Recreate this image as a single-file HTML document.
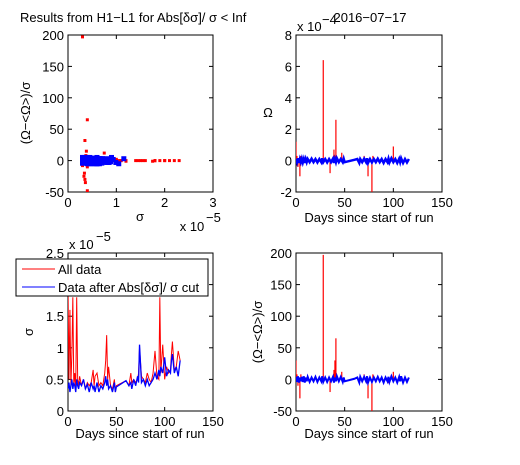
<!DOCTYPE html>
<html><head><meta charset="utf-8"><style>
body{margin:0;background:#fff}
svg text{font-family:"Liberation Sans",Helvetica,sans-serif;font-size:13px;fill:#000}
</style></head><body>
<svg id="fig" width="520" height="460" viewBox="0 0 520 460" xmlns="http://www.w3.org/2000/svg"></svg>
<script>
const days=[0,1,2,3,4,5,6,7,8,9,10,11,12,14,16,18,20,22,24,26,27,28,30,32,34,36,38,39,40,41,42,44,46,48,49,50,60,63,65,66,68,70,72,73,74,76,78,80,82,84,86,88,90,92,94,95,96,98,100,102,104,106,107,108,110,112,114,116];
const sigmaRed=[2.0,0.5,1.6,0.4,0.9,1.8,0.4,0.6,0.35,1.8,0.5,0.4,0.55,0.4,0.5,0.35,0.45,0.4,0.45,0.65,0.4,0.55,0.6,0.4,0.45,0.4,0.6,0.8,1.2,0.5,0.7,0.4,0.35,0.5,0.3,0.4,0.48,0.4,0.6,0.45,0.5,0.45,0.5,0.6,1.0,0.55,0.5,0.45,0.6,0.5,0.45,0.6,0.95,0.55,0.5,1.8,0.6,1.05,0.5,0.7,0.6,0.65,0.9,1.1,0.65,0.7,0.95,0.8];
const sigmaBlue=[0.35,0.45,0.3,0.4,0.5,0.35,0.45,0.4,0.3,0.5,0.4,0.35,0.45,0.4,0.5,0.35,0.42,0.3,0.45,0.35,0.4,0.3,0.45,0.3,0.4,0.35,0.45,0.55,0.4,0.5,0.35,0.4,0.3,0.45,0.3,0.38,0.48,0.4,0.45,0.35,0.5,0.4,0.55,0.45,1.05,0.45,0.5,0.4,0.5,0.4,0.45,0.5,0.6,0.5,0.65,0.55,0.7,0.6,0.85,0.55,0.65,0.6,0.8,0.9,0.6,0.7,0.55,0.8];
const omegaBlue=[0.1,-0.1,0.15,-0.15,0.1,-0.1,0.12,-0.12,0.1,-0.15,0.1,-0.1,0.1,-0.1,0.12,-0.1,0.1,-0.12,0.1,-0.1,0.15,-0.1,0.1,-0.12,0.1,-0.1,0.12,-0.15,0.1,-0.1,0.15,-0.1,0.1,-0.1,0.12,-0.1,0.05,0.1,-0.15,0.1,-0.1,0.12,-0.1,0.15,-0.15,0.1,-0.12,0.1,-0.1,0.12,-0.1,0.1,-0.15,0.1,-0.1,0.12,-0.12,0.15,-0.1,0.1,-0.15,0.12,-0.1,0.15,-0.15,0.1,-0.12,0.1];
const ratioBlue=[4,-4,5,-5,3,-3,4,-4,5,-5,3,-3,4,-4,3,-3,4,-4,3,-3,5,-4,3,-4,3,-3,4,-5,3,-3,5,-3,4,-4,3,-3,1,3,-5,4,-3,4,-3,5,-5,3,-4,3,-3,4,-3,3,-5,3,-3,4,-4,5,-3,3,-5,4,-3,5,-5,3,-4,3];
const spikeDays=[0,1,2,4,5,28,35,39,40,41,47,70,73,74,78,79,95,100];
const spikeOmega=[1.2,0.3,-0.4,-1.0,0.3,6.4,-0.8,0.7,0.3,2.6,0.5,0.3,-0.2,-1.0,-2.0,0.3,-0.2,0.9];
const spikeRatio=[30,8,-10,-30,8,197,-20,15,30,65,12,8,-6,-30,-50,8,-6,12];
const scatterSigmaRed=[0.3,0.4,0.35,0.35,0.4,0.38,0.33,0.37,0.36,0.4,0.75,0.9,1.0,1.1,1.2,1.4,1.45,1.5,1.55,1.75,1.8,1.9,2.0,2.1,2.2,2.3,0.3,0.36,0.34];
const scatterRatioRed=[197,65,32,-30,-48,15,-25,8,-35,-10,12,0,2,0,-1,0,0,0,0,-1,0,0,0,0,0,0,-8,5,-20];

const NS='http://www.w3.org/2000/svg';
const svg=document.getElementById('fig');
function mk(tag,attrs,parent){const e=document.createElementNS(NS,tag);for(const k in attrs)e.setAttribute(k,attrs[k]);(parent||svg).appendChild(e);return e;}
function txt(x,y,s,anchor,name,parent,extra){const t=mk('text',Object.assign({x:x,y:y,'text-anchor':anchor||'middle'},extra||{}),parent);t.textContent=s;return t;}
function axes(name,x0,x1,y0,y1,xmin,xmax,ymin,ymax,xt,yt){
  const g=mk('g',{});
  
  
  const sx=v=>x0+(v-xmin)/(xmax-xmin)*(x1-x0);
  const sy=v=>y1-(v-ymin)/(ymax-ymin)*(y1-y0);
  const r=mk('rect',{x:x0,y:y0,width:x1-x0,height:y1-y0,fill:'#fff',stroke:'#000','stroke-width':1},g);
  
  
  xt.forEach(v=>{const X=sx(v);mk('line',{x1:X,x2:X,y1:y1,y2:y1-4,stroke:'#000'},g);mk('line',{x1:X,x2:X,y1:y0,y2:y0+4,stroke:'#000'},g);txt(X,y1+15,String(v),'middle','x-tick-label',g,{'font-size':14});});
  yt.forEach(v=>{const Y=sy(v);mk('line',{x1:x0,x2:x0+4,y1:Y,y2:Y,stroke:'#000'},g);mk('line',{x1:x1,x2:x1-4,y1:Y,y2:Y,stroke:'#000'},g);txt(x0-4,Y+5,String(v),'end','y-tick-label',g,{'font-size':14});});
  const clip='c'+name;const cp=mk('clipPath',{id:clip},g);mk('rect',{x:x0,y:y0,width:x1-x0,height:y1-y0},cp);
  const data=mk('g',{'clip-path':'url(#'+clip+')'},g);
  return {g,sx,sy,data};
}
function poly(ax,xs,ys,color,name,w){const p=mk('polyline',{points:xs.map((x,i)=>ax.sx(x)+','+ax.sy(ys[i])).join(' '),fill:'none',stroke:color,'stroke-width':w||1},ax.data);return p;}
function spikes(ax,xs,ys,color,name){xs.forEach((x,i)=>{const l=mk('line',{x1:ax.sx(x),x2:ax.sx(x),y1:ax.sy(0),y2:ax.sy(ys[i]),stroke:color,'stroke-width':1.2},ax.data);});}
function dots(ax,xs,ys,color,name,s){xs.forEach((x,i)=>{const d=mk('rect',{x:ax.sx(x)-s/2,y:ax.sy(ys[i])-s/2,width:s,height:s,fill:color},ax.data);});}

// top-left
const a1=axes('scatter-panel',68,213,35,192,0,3,-50,200,[0,1,2,3],[-50,0,50,100,150,200]);
dots(a1,sigmaRed,days.map(()=>0),'#f00','red-point',3);
dots(a1,scatterSigmaRed,scatterRatioRed,'#f00','red-point',3);
dots(a1,sigmaBlue,ratioBlue,'#00f','blue-point',5);
dots(a1,sigmaBlue.map(v=>v*1.1),ratioBlue.map(v=>-v*0.6),'#00f','blue-point',5);
txt(140,221,'σ','middle','x-axis-title',null,{'font-size':14});
txt(192,231,'x 10','middle','x-exponent');txt(206,222,'−5','start','x-exponent-power',null,{'font-size':11});
txt(30,113,'(Ω−<Ω>)/σ','middle','y-axis-title',null,{transform:'rotate(-90 30 113)'});
txt(20,22,'Results from H1−L1 for Abs[δσ]/ σ < Inf','start','figure-title');

// top-right
const a2=axes('omega-panel',296,442,35,192,0,150,-2,8,[0,50,100,150],[-2,0,2,4,6,8]);
spikes(a2,spikeDays,spikeOmega,'#f00','red-spike');
poly(a2,days,omegaBlue,'#00f','blue-omega-line',2.5);
txt(369,222,'Days since start of run','middle','x-axis-title',null,{'font-size':14});
txt(268,117,'Ω','middle','y-axis-title');
txt(297,31,'x 10','start','y-exponent');txt(322,24,'−4','start','y-exponent-power',null,{'font-size':11});
txt(370,22,'2016−07−17','middle','panel-date-title');

// bottom-left
const a3=axes('sigma-panel',68,213,253,411,0,150,0,2.5,[0,50,100,150],[0,0.5,1,1.5,2,2.5]);
poly(a3,days,sigmaRed,'#f00','red-sigma-line');
poly(a3,days,sigmaBlue,'#00f','blue-sigma-line',1.3);
txt(140,438,'Days since start of run','middle','x-axis-title',null,{'font-size':14});
txt(33,332,'σ','middle','y-axis-title',null,{transform:'rotate(-90 33 332)'});
txt(69,249,'x 10','start','y-exponent');txt(96,241,'−5','start','y-exponent-power',null,{'font-size':11});
const lg=mk('g',{});
mk('rect',{x:16,y:259,width:192,height:37,fill:'#fff',stroke:'#000'},lg);
mk('line',{x1:22,x2:55,y1:269,y2:269,stroke:'#f00'},lg);txt(58,274,'All data','start','legend-entry-all-data',lg,{'font-size':13});
mk('line',{x1:22,x2:55,y1:287,y2:287,stroke:'#00f'},lg);txt(58,292,'Data after Abs[δσ]/ σ cut','start','legend-entry-cut-data',lg,{'font-size':13});

// bottom-right
const a4=axes('ratio-panel',296,442,253,411,0,150,-50,200,[0,50,100,150],[-50,0,50,100,150,200]);
spikes(a4,spikeDays,spikeRatio,'#f00','red-spike');
poly(a4,days,ratioBlue,'#00f','blue-ratio-line',2);
txt(369,438,'Days since start of run','middle','x-axis-title',null,{'font-size':14});
txt(262,332,'(Ω−<Ω>)/σ','middle','y-axis-title',null,{transform:'rotate(-90 262 332)'});
</script>
</body></html>
